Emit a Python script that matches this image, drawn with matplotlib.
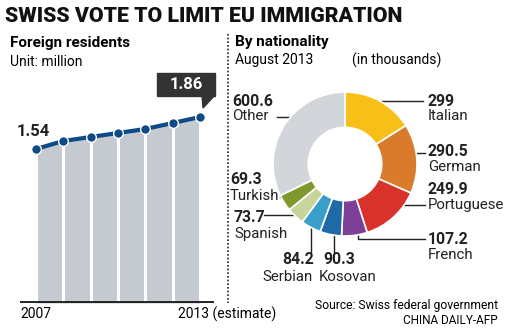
import matplotlib
matplotlib.use("Agg")
import matplotlib.pyplot as plt
from matplotlib.patches import Rectangle, Polygon

plt.rcParams["font.family"] = ["Roboto", "DejaVu Sans"]

# Foreign residents (million)
years = [2007, 2008, 2009, 2010, 2011, 2012, 2013]
residents = [1.54, 1.62, 1.66, 1.70, 1.74, 1.80, 1.86]

# By nationality, August 2013 (thousands), clockwise from top
nations = ["Italian", "German", "Portuguese", "French", "Kosovan",
           "Serbian", "Spanish", "Turkish", "Other"]
counts = [299, 290.5, 249.9, 107.2, 90.3, 84.2, 73.7, 69.3, 600.6]
count_labels = ["299", "290.5", "249.9", "107.2", "90.3", "84.2", "73.7", "69.3", "600.6"]
colors = ["#f8c016", "#d97b2b", "#d8322b", "#7d3f98", "#1f69a6",
          "#3a9fc8", "#c8d59a", "#7f992f", "#d2d6db"]

W, H = 508, 335
fig = plt.figure(figsize=(W / 100, H / 100), dpi=100)


def px_axes(x, y, w, h):
    return fig.add_axes([x / W, 1 - (y + h) / H, w / W, h / H])


# overlay in pixel coordinates for texts and leader lines
ov = px_axes(0, 0, W, H)
ov.set_xlim(0, W)
ov.set_ylim(H, 0)
ov.axis("off")

ov.text(5, 16, "SWISS VOTE TO LIMIT EU IMMIGRATION", fontsize=15.3,
        fontweight="black", va="center", ha="left", color="#111")
ov.text(10, 43, "Foreign residents", fontsize=11, fontweight="bold", va="center")
ov.text(10, 62, "Unit: million", fontsize=10, va="center")
ov.text(235, 42, "By nationality", fontsize=11, fontweight="bold", va="center")
ov.text(235, 60, "August 2013", fontsize=10, va="center")
ov.text(352, 60, "(in thousands)", fontsize=10, va="center")
ov.plot([228, 228], [34, 303], color="#222", lw=1.2, ls=(0, (1, 1.2)))

# ---- left: line over area ----
ax = px_axes(19.6, 83, 194.1, 220)
ax.set_xlim(2006.4, 2013.5)
ax.set_ylim(0, 2.2)
ax.axis("off")
ax.fill_between(years, residents, 0, color="#c5cad1", lw=0)
ax.vlines(years[1:-1], 0, residents[1:-1], color="white", lw=2.2)
ax.vlines([years[0], years[-1]], 0, [residents[0], residents[-1]], color="white", lw=2.2)
ax.plot(years, residents, color="#0e4a88", lw=3, marker="o", ms=7,
        mec="white", mew=1, solid_capstyle="round")
ax.axhline(0, color="#222", lw=2.8)
ax.text(2006.9, 1.71, f"{residents[0]:.2f}", fontsize=12, fontweight="bold",
        ha="center", va="center", color="#222")
ax.add_patch(Rectangle((2011.43, 2.07), 2.12, 0.23, color="#333333", clip_on=False))
ax.add_patch(Polygon([(2013.07, 2.08), (2013.55, 2.08), (2013.11, 1.95)],
                     color="#333333", clip_on=False))
ax.text(2012.49, 2.185, f"{residents[-1]:.2f}", fontsize=12, fontweight="bold",
        ha="center", va="center", color="white", clip_on=False)
ov.text(20, 314, str(years[0]), fontsize=10, va="center")
ov.text(178, 314, f"{years[-1]} (estimate)", fontsize=10, va="center")

# ---- right: donut ----
dx = px_axes(273, 92, 144, 144)
dx.pie(counts, colors=colors, startangle=90, counterclock=False, radius=1,
       wedgeprops=dict(width=0.49, edgecolor="white", linewidth=1.2))
dx.set_xlim(-1, 1)
dx.set_ylim(-1, 1)
dx.set_aspect("equal")

lab = dict(fontsize=10.8, va="center", color="#222")
num = dict(fontsize=11.3, fontweight="bold", va="center", color="#222")
lc = dict(color="#222", lw=1)

# right side labels
right = [(0, 101, [(381, 101), (423, 101)]),
         (1, 152, [(410, 153), (425, 153)]),
         (2, 190, [(392, 205), (425, 205)]),
         (3, 240, [(358, 225), (358, 239), (425, 239)])]
for i, y, pts in right:
    ov.text(428, y, count_labels[i], **num)
    ov.text(428, y + 15, nations[i], **lab)
    ov.plot([p[0] for p in pts], [p[1] for p in pts], **lc)

# bottom labels
ov.text(339, 260, count_labels[4], ha="center", **num)
ov.text(348, 277, nations[4], ha="center", **lab)
ov.plot([334, 334], [232, 252], **lc)
ov.text(298, 260, count_labels[5], ha="center", **num)
ov.text(288, 277, nations[5], ha="center", **lab)
ov.plot([311, 311], [224, 252], **lc)

# left labels
ov.text(234, 218, count_labels[6], **num)
ov.text(234, 234, nations[6], **lab)
ov.plot([264, 294], [215, 215], **lc)
ov.text(230, 180, count_labels[7], **num)
ov.text(230, 196, nations[7], **lab)
ov.plot([280, 289], [197, 197], **lc)
ov.text(232, 101, count_labels[8], **num)
ov.text(232, 116, nations[8], **lab)
ov.plot([277, 293], [117, 117], **lc)

ov.text(498, 306, "Source: Swiss federal government", fontsize=8.7, ha="right", va="center")
ov.text(498, 321, "CHINA DAILY-AFP", fontsize=8.5, ha="right", va="center")

fig.savefig("out.png", dpi=100)
